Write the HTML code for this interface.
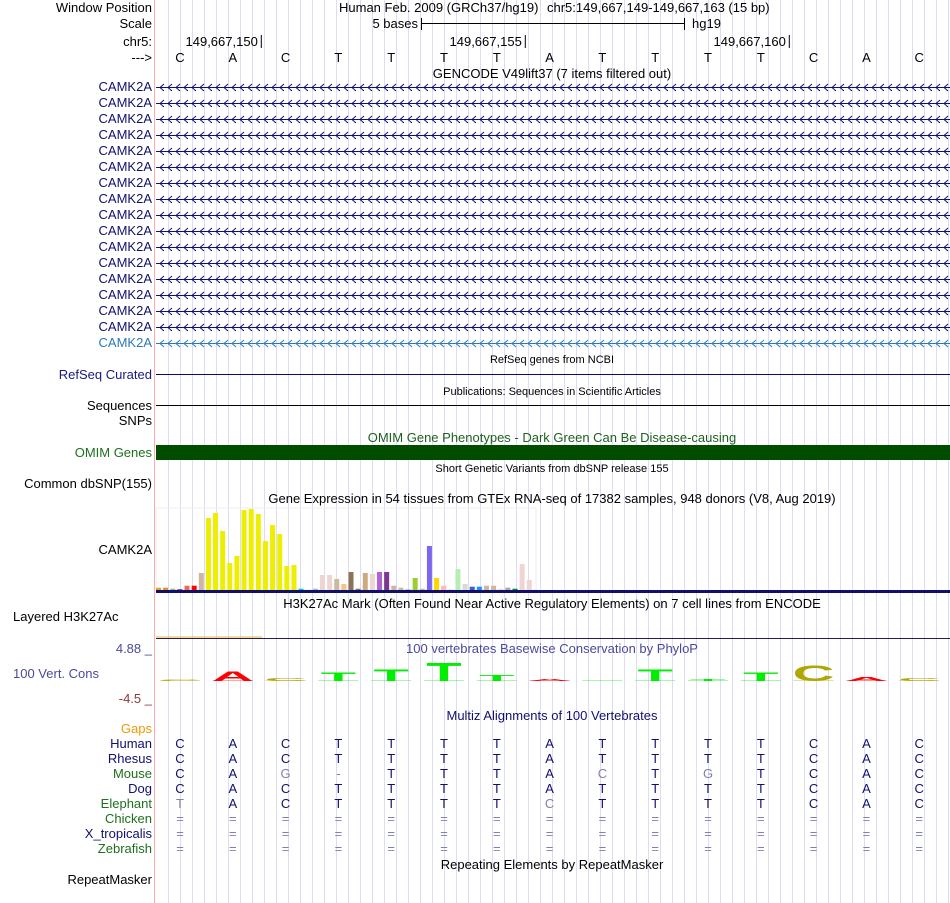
<!DOCTYPE html>
<html><head><meta charset="utf-8">
<style>
html,body{margin:0;padding:0;background:#fff;}
svg{display:block;font-family:"Liberation Sans",sans-serif;}
.lb{font-size:13px;text-anchor:end;}
.tt{font-size:13px;text-anchor:middle;}
.sm{font-size:11px;text-anchor:middle;}
.bs{font-size:13px;text-anchor:middle;}
</style></head>
<body>
<svg id="ch" width="950" height="903" viewBox="0 0 950 903">
<g id="grid"></g>
<line x1="154.5" y1="0" x2="154.5" y2="903" stroke="#ffaaaa" stroke-width="1"/>

<!-- header -->
<text x="152" y="12" class="lb">Window Position</text>
<text x="152" y="28" class="lb">Scale</text>
<text x="152" y="46" class="lb">chr5:</text>
<text x="152" y="62" class="lb">---&gt;</text>
<text x="339" y="12" font-size="13">Human Feb. 2009 (GRCh37/hg19)</text>
<text x="547" y="12" font-size="13">chr5:149,667,149-149,667,163 (15 bp)</text>
<text x="418" y="28" font-size="13" text-anchor="end">5 bases</text>
<g stroke="#000">
<line x1="421" y1="23.5" x2="684" y2="23.5"/><line x1="421.5" y1="18" x2="421.5" y2="30"/><line x1="684.5" y1="18" x2="684.5" y2="30"/></g>
<text x="692" y="28" font-size="13">hg19</text>
<g id="coords"></g>
<g id="seq"></g>

<text x="552" y="78" class="tt">GENCODE V49lift37 (7 items filtered out)</text>
<g id="genes"></g>

<text x="552" y="363" class="sm">RefSeq genes from NCBI</text>
<text x="152" y="379" class="lb" fill="#1a1a80">RefSeq Curated</text>
<line x1="156" y1="374.5" x2="950" y2="374.5" stroke="#0a0a70"/>
<text x="552" y="395" class="sm">Publications: Sequences in Scientific Articles</text>
<text x="152" y="410" class="lb">Sequences</text>
<line x1="156" y1="405.5" x2="950" y2="405.5" stroke="#000"/>
<text x="152" y="425" class="lb">SNPs</text>
<text x="552" y="442" class="tt" fill="#1f5f1f">OMIM Gene Phenotypes - Dark Green Can Be Disease-causing</text>
<text x="152" y="457" class="lb" fill="#1f6f1f">OMIM Genes</text>
<rect x="156" y="445" width="794" height="15" fill="#004d00"/>
<text x="552" y="472" class="sm">Short Genetic Variants from dbSNP release 155</text>
<text x="152" y="488" class="lb">Common dbSNP(155)</text>
<text x="552" y="503" class="tt">Gene Expression in 54 tissues from GTEx RNA-seq of 17382 samples, 948 donors (V8, Aug 2019)</text>
<text x="152" y="554" class="lb">CAMK2A</text>
<g id="gtex"></g>
<rect x="156" y="590" width="794" height="3" fill="#10106a"/>

<text x="552" y="608" class="tt">H3K27Ac Mark (Often Found Near Active Regulatory Elements) on 7 cell lines from ENCODE</text>
<text x="13" y="621" font-size="13">Layered H3K27Ac</text>
<line x1="156" y1="637" x2="262" y2="637" stroke="#f0b040" stroke-width="1"/>
<line x1="156" y1="638.5" x2="950" y2="638.5" stroke="#20204a"/>

<text x="552" y="653" class="tt" fill="#4a4a9a">100 vertebrates Basewise Conservation by PhyloP</text>
<text x="152" y="653" class="lb" fill="#4a4a9a">4.88 _</text>
<text x="13" y="678" font-size="13" fill="#4a4a9a">100 Vert. Cons</text>
<text x="152" y="703" class="lb" fill="#8a3a3a">-4.5 _</text>
<g id="cons"></g>

<text x="552" y="720" class="tt" fill="#101070">Multiz Alignments of 100 Vertebrates</text>
<g id="multiz"></g>

<text x="552" y="869" class="tt">Repeating Elements by RepeatMasker</text>
<text x="152" y="884" class="lb">RepeatMasker</text>
</svg>
<script>
const NS='http://www.w3.org/2000/svg';
const refBases=['C','A','C','T','T','T','T','A','T','T','T','T','C','A','C'];
const coordLabels=['149,667,150','149,667,155','149,667,160'];
const coordBaseIdx=[1,6,11];
const phyloScores=[0.5,5,1.5,4.5,6,9.5,3,0.8,0,6,1,4.5,8,2,1.5];
const gtexValues=[2.3,2.3,1.3,0.7,4.3,4.3,17,72,77,59,27,34,80,81,76,49,65,56,24,25,1.3,0,1.3,15,15,11,6,18,1.3,17,16,18,18,4.3,2.3,0.7,12,1.3,44,12,4.3,0.3,21,6,3.3,3.3,4.3,4.3,1.3,2.3,1.3,26,10,0.3];
const gtexColors=['#f29b3b','#e8901c','#8fbc8f','#800060','#ee6a50','#ff0000','#cdb79e','#eeee00','#eeee00','#eeee00','#eeee00','#eeee00','#eeee00','#eeee00','#eeee00','#eeee00','#eeee00','#eeee00','#eeee00','#eeee00','#00cdcd','#9ac0cd','#9ac0cd','#eed5d2','#eed5d2','#cdb79e','#f4c48c','#8b7355','#8b7355','#cdaa7d','#eed5d2','#b462d3','#7a378b','#cdb79e','#cdb79e','#aaaaaa','#9acd32','#cdb79e','#7b68ee','#ffd700','#ffb6c1','#cdb79e','#b4eeb4','#d9d9d9','#3a5fcd','#1e90ff','#cdb79e','#cdb79e','#ffdab9','#a6a6a6','#008b45','#eed5d2','#eed5d2','#eed5d2'];
const species=['Human','Rhesus','Mouse','Dog','Elephant','Chicken','X_tropicalis','Zebrafish'];
const speciesColors=['#101070','#101070','#1f6f1f','#101070','#1f6f1f','#1f6f1f','#101070','#1f6f1f'];
const alignRows=['CACTTTTATTTTCAC','CACTTTTATTTTCAC','CAG-TTTACTGTCAC','CACTTTTATTTTCAC','TACTTTTCTTTTCAC','===============','===============','==============='];
const geneCount=17;

const baseX=i=>180+52.8*i;
const gtexX=i=>156+7.13*i;
const gtexY=v=>590-v;
const consH=v=>v*2;
function mk(tag,attrs,parent){const e=document.createElementNS(NS,tag);for(const k in attrs)e.setAttribute(k,attrs[k]);parent.appendChild(e);return e;}

const grid=document.getElementById('grid');
for(let x=168;x<950;x+=12){const l=mk('line',{x1:x+0.5,y1:0,x2:x+0.5,y2:903,stroke:'#dcdcf4'},grid);

}

const coords=document.getElementById('coords');
coordLabels.forEach((t,k)=>{const xe=baseX(coordBaseIdx[k])+28;
const tx=mk('text',{x:xe-3,y:46,'font-size':13,'text-anchor':'end'},coords);tx.textContent=t;


mk('line',{x1:xe+0.5,y1:35,x2:xe+0.5,y2:48,stroke:'#000'},coords);});

const seq=document.getElementById('seq');
refBases.forEach((b,i)=>{const t=mk('text',{x:baseX(i),y:62,class:'bs'},seq);t.textContent=b;

});

const genes=document.getElementById('genes');
for(let r=0;r<geneCount;r++){const y=87+16*r;const col=r==geneCount-1?'#2a7ab8':'#101070';
const lab=mk('text',{x:152,y:y+4,class:'lb',fill:col},genes);lab.textContent='CAMK2A';


let d='M156 '+(y+0.5)+' H950';for(let x=160;x<948;x+=8){d+=' M'+(x+4)+' '+(y-3)+' L'+x+' '+(y+0.5)+' L'+(x+4)+' '+(y+4);}
const p=mk('path',{d:d,stroke:col,fill:'none','stroke-width':1},genes);

}

const gtex=document.getElementById('gtex');
mk('rect',{x:156,y:508,width:380,height:82,fill:'none',stroke:'#eeeeee'},gtex);
gtexValues.forEach((v,i)=>{const r=mk('rect',{x:gtexX(i),y:gtexY(v),width:5,height:v,fill:gtexColors[i]},gtex);

});

const consColors={A:'#ff0000',C:'#b0a800',G:'#c08000',T:'#00ee00'};
const cons=document.getElementById('cons');
refBases.forEach((b,i)=>{const h=consH(phyloScores[i]);const cx=baseX(i);
mk('line',{x1:cx-20,y1:680.5,x2:cx+20,y2:680.5,stroke:consColors[b],'stroke-opacity':0.35},cons);
if(h<=0)return;
const t=mk('text',{x:0,y:0,'text-anchor':'middle','font-size':20,'font-weight':'bold',fill:consColors[b],transform:'translate('+cx+',681) scale(2.9,'+(h/14.5)+')'},cons);
t.textContent=b;

});

const mz=document.getElementById('multiz');
const gl=mk('text',{x:152,y:733,class:'lb',fill:'#ee9a00'},mz);gl.textContent='Gaps';


species.forEach((s,r)=>{const y=748+15*r;
const l=mk('text',{x:152,y:y,class:'lb',fill:speciesColors[r]},mz);l.textContent=s;


alignRows[r].split('').forEach((c,i)=>{const diff=c!==refBases[i];
const t=mk('text',{x:baseX(i),y:y,class:'bs',fill:diff?'#8080b0':'#101070'},mz);t.textContent=c;

});});
</script>
</body></html>
